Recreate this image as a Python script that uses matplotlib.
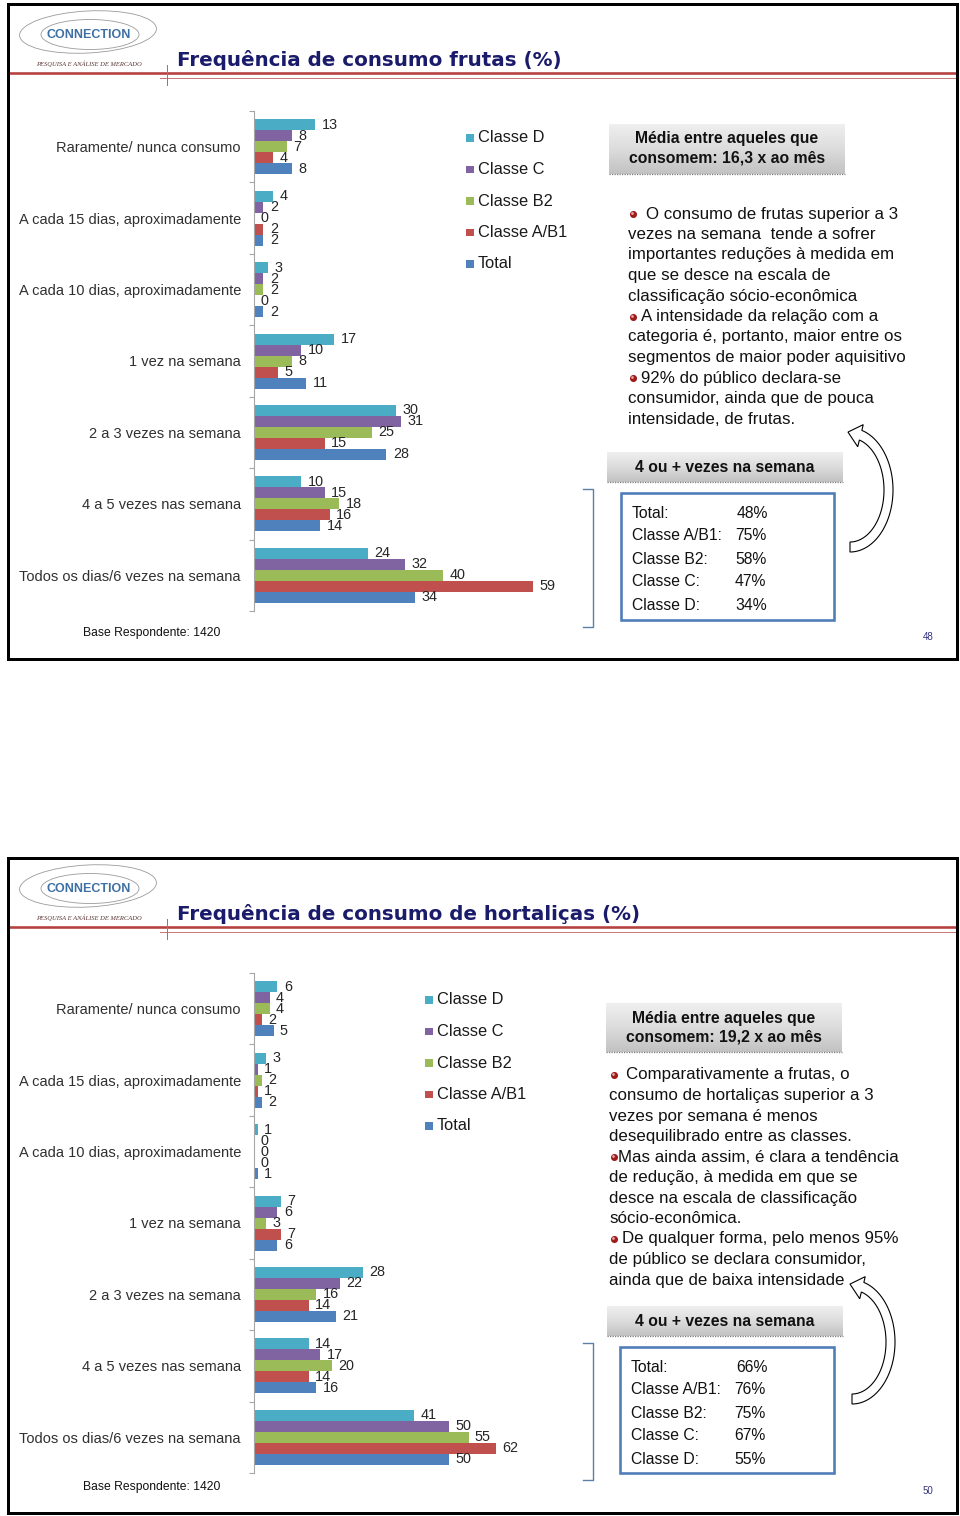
import numpy as np
import matplotlib
matplotlib.use("Agg")
import matplotlib.pyplot as plt
from matplotlib.patches import Rectangle, Ellipse, Polygon
from matplotlib.colors import LinearSegmentedColormap

# ---------------- data ----------------
categories = ["Raramente/ nunca consumo", "A cada 15 dias, aproximadamente",
              "A cada 10 dias, aproximadamente", "1 vez na semana",
              "2 a 3 vezes na semana", "4 a 5 vezes nas semana",
              "Todos os dias/6 vezes na semana"]
series_names = ["Classe D", "Classe C", "Classe B2", "Classe A/B1", "Total"]

frutas_classe_d = [13, 4, 3, 17, 30, 10, 24]
frutas_classe_c = [8, 2, 2, 10, 31, 15, 32]
frutas_classe_b2 = [7, 0, 2, 8, 25, 18, 40]
frutas_classe_ab1 = [4, 2, 0, 5, 15, 16, 59]
frutas_total = [8, 2, 2, 11, 28, 14, 34]

hort_classe_d = [6, 3, 1, 7, 28, 14, 41]
hort_classe_c = [4, 1, 0, 6, 22, 17, 50]
hort_classe_b2 = [4, 2, 0, 3, 16, 20, 55]
hort_classe_ab1 = [2, 1, 0, 7, 14, 14, 62]
hort_total = [5, 2, 1, 6, 21, 16, 50]

summary_labels = ["Total:", "Classe A/B1:", "Classe B2:", "Classe C:", "Classe D:"]
frutas_4mais = [48, 75, 58, 47, 34]
hort_4mais = [66, 76, 75, 67, 55]

title_frutas = "Frequência de consumo frutas (%)"
title_hort = "Frequência de consumo de hortaliças (%)"
media_frutas = ["Média entre aqueles que", "consomem: 16,3 x ao mês"]
media_hort = ["Média entre aqueles que", "consomem: 19,2 x ao mês"]

bullets_frutas = [
    (True, "O consumo de frutas superior a 3"),
    (False, "vezes na semana  tende a sofrer"),
    (False, "importantes reduções à medida em"),
    (False, "que se desce na escala de"),
    (False, "classificação sócio-econômica"),
    (True, "A intensidade da relação com a"),
    (False, "categoria é, portanto, maior entre os"),
    (False, "segmentos de maior poder aquisitivo"),
    (True, "92% do público declara-se"),
    (False, "consumidor, ainda que de pouca"),
    (False, "intensidade, de frutas."),
]
bullets_hort = [
    (True, "Comparativamente a frutas, o"),
    (False, "consumo de hortaliças superior a 3"),
    (False, "vezes por semana é menos"),
    (False, "desequilibrado entre as classes."),
    (True, "Mas ainda assim, é clara a tendência"),
    (False, "de redução, à medida em que se"),
    (False, "desce na escala de classificação"),
    (False, "sócio-econômica."),
    (True, "De qualquer forma, pelo menos 95%"),
    (False, "de público se declara consumidor,"),
    (False, "ainda que de baixa intensidade"),
]

# ---------------- style ----------------
colors = ["#4BACC6", "#8064A2", "#9BBB59", "#C0504D", "#4F81BD"]
W, H = 960, 1516
SANS = ["Liberation Sans", "DejaVu Sans"]
plt.rcParams["font.family"] = SANS

fig = plt.figure(figsize=(W / 100, H / 100), dpi=100)
fig.patch.set_facecolor("white")
bg = fig.add_axes([0, 0, 1, 1])
bg.set_xlim(0, W)
bg.set_ylim(H, 0)
bg.axis("off")


def px_axes(x0, y0, x1, y1):
    return fig.add_axes([x0 / W, 1 - y1 / H, (x1 - x0) / W, (y1 - y0) / H])


def px(v):
    return v * 0.72


def gradient_box(x0, y0, x1, y1):
    cmap = LinearSegmentedColormap.from_list("g", ["#efefef", "#dcdcdc", "#c2c2c2"])
    grad = np.linspace(0, 1, 64).reshape(-1, 1)
    bg.imshow(grad, extent=(x0, x1, y1, y0), cmap=cmap, aspect="auto",
              origin="upper", zorder=2)
    bg.plot([x0, x1], [y1, y1], ls=(0, (1, 1)), color="#7a7a7a", lw=0.9, zorder=3)


def curved_arrow(cx, cy):
    ao, bo = 43, 62
    ai, bi = 34, 52
    t0 = -74
    th = np.radians(np.linspace(90, t0, 80))
    outer = [(cx + ao * np.cos(t), cy + bo * np.sin(t)) for t in th]
    inner = [(cx + ai * np.cos(t), cy + bi * np.sin(t)) for t in th[::-1]]
    tr = np.radians(t0)
    wing_o = (cx + 48 * np.cos(tr), cy + 68 * np.sin(tr))
    wing_i = (cx + 28 * np.cos(tr), cy + 45 * np.sin(tr))
    tt = np.radians(-93)
    tip = (cx + 38.5 * np.cos(tt), cy + 58 * np.sin(tt))
    pts = outer + [wing_o, tip, wing_i] + inner
    bg.add_patch(Polygon(pts, closed=True, facecolor="white", edgecolor="black",
                         lw=0.8, zorder=4))


def bullet(x, y):
    bg.scatter([x], [y], s=26, color="#9E1C1C", zorder=5, linewidths=0)
    bg.scatter([x - 0.8], [y - 0.8], s=4, color="#E7A3A3", zorder=6, linewidths=0)


def draw_slide(dy, title, series, xmax, chart_top, legend_x, legend_y0,
               media, bullets, bx, summary, arrow_c, page):
    # frame
    bg.add_patch(Rectangle((8, 4 + dy), 949, 655, fill=False, edgecolor="black",
                           lw=px(3), zorder=10))
    # logo
    bg.add_patch(Ellipse((88, 32 + dy), 137, 42, angle=-3, fill=False, ec="#9a9a9a", lw=0.6))
    bg.add_patch(Ellipse((90, 34.5 + dy), 98, 30, fill=False, ec="#9a9a9a", lw=0.6))
    bg.text(89, 35 + dy, "CONNECTION", ha="center", va="center", fontsize=9,
            fontweight="bold", color="#3E70A4")
    bg.text(89, 63.5 + dy, "PESQUISA E ANÁLISE DE MERCADO", ha="center", va="center",
            fontsize=4.7, style="italic", family=["Liberation Serif", "DejaVu Serif"],
            color="#5a3535")
    # header lines
    bg.plot([10, 955], [73 + dy, 73 + dy], color="#B5413F", lw=px(2.6), zorder=3)
    bg.plot([160, 955], [78 + dy, 78 + dy], color="#C77B79", lw=px(1), zorder=3)
    bg.plot([167, 167], [65 + dy, 85 + dy], color="#C06564", lw=px(1), zorder=3)
    bg.text(177, 60 + dy, title, ha="left", va="center", fontsize=14.3,
            fontweight="bold", family=["DejaVu Sans"], color="#1B1B6B")

    # chart
    ax = px_axes(254, chart_top, 254 + 330, chart_top + 500)
    ax.set_facecolor("none")
    n = len(categories)
    centers = np.arange(n) + 0.5
    bh = 0.154
    for j, (vals, c) in enumerate(zip(series, colors)):
        yy = centers + (j - 2) * bh
        ax.barh(yy, vals, height=bh, color=c, linewidth=0)
        for v, y in zip(vals, yy):
            ax.annotate(str(v), (v, y), xytext=(4.6, 0), textcoords="offset points",
                        ha="left", va="center", fontsize=10.4, color="#262626")
    ax.set_xlim(0, xmax)
    ax.set_ylim(n, 0)
    ax.set_xticks([])
    ax.set_yticks(centers)
    ax.set_yticklabels(categories, fontsize=10.5, color="#303030")
    ax.set_yticks(np.arange(n + 1), minor=True)
    ax.tick_params(axis="y", which="major", length=0, pad=9.4)
    ax.tick_params(axis="y", which="minor", length=px(5), width=0.8,
                   color="#a6a6a6", direction="out")
    for s in ["top", "right", "bottom"]:
        ax.spines[s].set_visible(False)
    ax.spines["left"].set_color("#a6a6a6")
    ax.spines["left"].set_linewidth(0.8)

    # legend
    for i, (name, c) in enumerate(zip(series_names, colors)):
        y = legend_y0 + i * 31.5
        bg.add_patch(Rectangle((legend_x, y - 3.8), 7.6, 7.6, color=c, lw=0))
        bg.text(legend_x + 12, y, name, ha="left", va="center", fontsize=11.8,
                color="#1a1a1a")

    # media box
    mx0, my0, mx1, my1 = media[0]
    gradient_box(mx0, my0, mx1, my1)
    mcx = (mx0 + mx1) / 2
    bg.text(mcx, my0 + 15, media[1][0], ha="center", va="center", fontsize=11.3,
            fontweight="bold", color="#111111", zorder=4)
    bg.text(mcx, my0 + 34, media[1][1], ha="center", va="center", fontsize=11.3,
            fontweight="bold", color="#111111", zorder=4)

    # bullets text
    tx, ty0, bxs = bx
    for i, (is_b, line) in enumerate(bullets):
        y = ty0 + i * 20.5
        if is_b:
            bulx, offx = bxs[sum(1 for b, _ in bullets[:i] if b)]
            bullet(bulx, y)
            bg.text(offx, y, line, ha="left", va="center", fontsize=12.2, color="#111111")
        else:
            bg.text(tx, y, line, ha="left", va="center", fontsize=12.2, color="#111111")

    # 4 ou + box
    sx0, sy0, sx1, sy1, boxr, vals = summary
    gradient_box(sx0, sy0, sx1, sy1)
    bg.text((sx0 + sx1) / 2, (sy0 + sy1) / 2, "4 ou + vezes na semana", ha="center",
            va="center", fontsize=11.3, fontweight="bold", color="#111111", zorder=4)
    rx0, ry0, rx1, ry1 = boxr
    bg.add_patch(Rectangle((rx0, ry0), rx1 - rx0, ry1 - ry0, facecolor="white",
                           edgecolor="#4F7DB8", lw=px(2.6), zorder=3))
    for i, (lab, v) in enumerate(zip(summary_labels, vals)):
        y = ry0 + 20 + i * 23
        bg.text(rx0 + 11, y, lab, ha="left", va="center", fontsize=11.3,
                color="#111111", zorder=4)
        bg.text(rx0 + 114 + (2 if i == 0 else 0), y, f"{v}%", ha="left", va="center",
                fontsize=11.3, color="#111111", zorder=4)
    # bracket
    bg.plot([583, 593, 593, 583], [ry0 - 4, ry0 - 4, ry1 + 7, ry1 + 7],
            color="#5B7FA6", lw=1.0, zorder=3)
    curved_arrow(*arrow_c)

    bg.text(83, 633 + dy, "Base Respondente: 1420", ha="left", va="center",
            fontsize=8.7, color="#111111")
    bg.text(928, 637 + dy, page, ha="center", va="center", fontsize=7,
            color="#33337F")


draw_slide(0, title_frutas,
           [frutas_classe_d, frutas_classe_c, frutas_classe_b2, frutas_classe_ab1, frutas_total],
           330 / 4.73, 111, 466, 138,
           ((609, 124, 845, 174), media_frutas),
           bullets_frutas, (628, 214, [(633, 646), (633, 641), (633, 641)]),
           (607, 452, 843, 482, (621, 493, 834, 620), frutas_4mais),
           (850, 490), "48")

draw_slide(854, title_hort,
           [hort_classe_d, hort_classe_c, hort_classe_b2, hort_classe_ab1, hort_total],
           330 / 3.90, 973, 425, 1000,
           ((606, 1003, 842, 1052), media_hort),
           bullets_hort, (609, 1075, [(614, 626), (614, 618), (614, 622)]),
           (607, 1306, 843, 1336, (620, 1347, 834, 1473), hort_4mais),
           (852, 1342), "50")

bg.set_xlim(0, W)
bg.set_ylim(H, 0)
fig.savefig("out.png", dpi=100, facecolor="white")
